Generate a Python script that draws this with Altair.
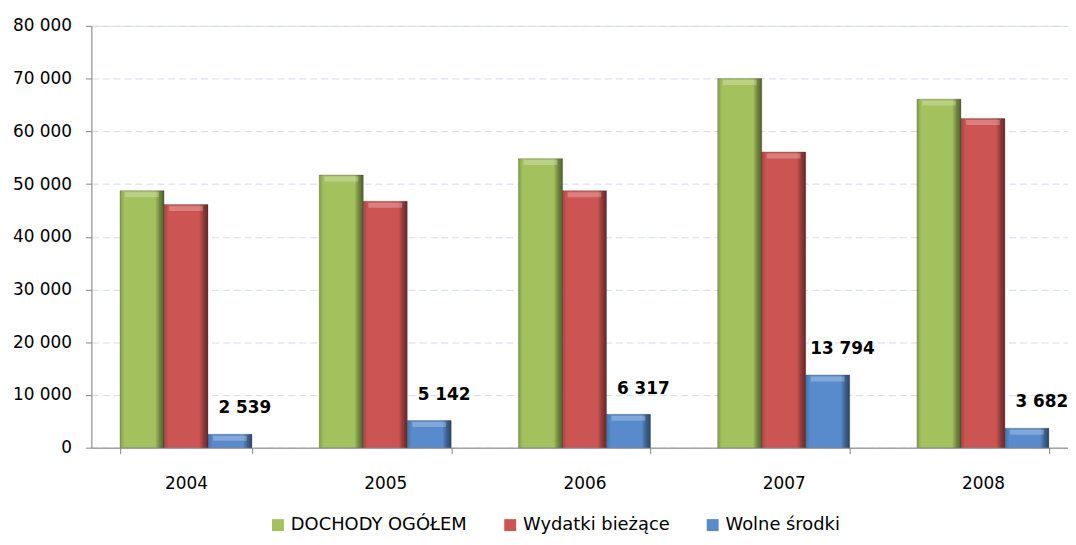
import altair as alt
import pandas as pd

years = ["2004", "2005", "2006", "2007", "2008"]
series = ["DOCHODY OGÓŁEM", "Wydatki bieżące", "Wolne środki"]
dochody = [48750, 51700, 54820, 70000, 66100]
wydatki = [46100, 46730, 48740, 56080, 62430]
wolne = [2539, 5142, 6317, 13794, 3682]
colors = ["#A3C15C", "#CC5452", "#578BCB"]
y_ticks = [0, 10000, 20000, 30000, 40000, 50000, 60000, 70000, 80000]

rows = []
for i, yr in enumerate(years):
    for s, vals in zip(series, [dochody, wydatki, wolne]):
        rows.append({"year": yr, "series": s, "value": vals[i]})
df = pd.DataFrame(rows)

FONT = "DejaVu Sans"
AXIS_GRAY = "#868686"
fmt = "replace(format(datum.value, ','), ',', ' ')"

x = alt.X(
    "year:N", sort=years, title=None,
    scale=alt.Scale(paddingInner=0.338, paddingOuter=0.12, align=0.6),
    axis=alt.Axis(labelAngle=0, tickBand="extent", tickSize=6, tickColor=AXIS_GRAY,
                  domainColor=AXIS_GRAY, labelFontSize=17, labelPadding=22,
                  labelColor="#000000", labelFont=FONT, grid=False),
)
xoff = alt.XOffset("series:N", sort=series,
                   scale=alt.Scale(domain=series, paddingInner=0, paddingOuter=0))
y = alt.Y(
    "value:Q", title=None,
    scale=alt.Scale(domain=[0, 80000], nice=False),
    axis=alt.Axis(values=y_ticks, labelExpr=fmt, tickSize=6, tickColor=AXIS_GRAY,
                  domainColor=AXIS_GRAY, labelFontSize=17, labelPadding=14,
                  labelColor="#000000", labelFont=FONT, grid=True,
                  gridColor="#D3DBF0", gridDash=[7, 4], gridWidth=1),
)

base = alt.Chart(df)

bars = base.mark_bar(stroke="#5a5a5a", strokeWidth=0.6, strokeOpacity=0.6).encode(
    x=x, xOffset=xoff, y=y,
    color=alt.Color("series:N", sort=series,
                    scale=alt.Scale(domain=series, range=colors),
                    legend=alt.Legend(title=None, orient="none", direction="horizontal",
                                      legendX=179, legendY=494, symbolType="square",
                                      symbolSize=144, symbolStrokeWidth=0,
                                      labelFontSize=18, labelFont=FONT, labelLimit=0,
                                      labelColor="#000000", labelOffset=4,
                                      columnPadding=34, padding=0)),
)

shade = alt.Gradient(
    gradient="linear", x1=0, x2=1, y1=0, y2=0,
    stops=[
        alt.GradientStop(color="rgba(0,0,0,0.18)", offset=0),
        alt.GradientStop(color="rgba(0,0,0,0)", offset=0.1),
        alt.GradientStop(color="rgba(0,0,0,0)", offset=0.8),
        alt.GradientStop(color="rgba(0,0,0,0.3)", offset=0.9),
        alt.GradientStop(color="rgba(0,0,0,0.5)", offset=1),
    ],
)
shading = base.mark_bar(fill=shade).encode(x=x, xOffset=xoff, y=y)

highlight = base.mark_tick(thickness=5, size=34, color="white", opacity=0.25, yOffset=4).encode(
    x=x, xOffset=xoff, y=y
)

labels = base.transform_filter(
    alt.datum.series == "Wolne środki"
).transform_calculate(
    label=fmt
).mark_text(dx=15, dy=-26, fontWeight="bold", fontSize=17, font=FONT,
            color="#000000", baseline="middle", align="center").encode(
    x=x, xOffset=xoff, y=y, text="label:N"
)

chart = alt.layer(bars, shading, highlight, labels).properties(
    width=984, height=425,
    autosize=alt.AutoSizeParams(type="none"),
    padding={"left": 84, "top": 16, "right": 0, "bottom": 89},
).configure_view(stroke=None).configure(font=FONT)

chart.save("out.html", embed_options={"renderer": "svg", "actions": False})
